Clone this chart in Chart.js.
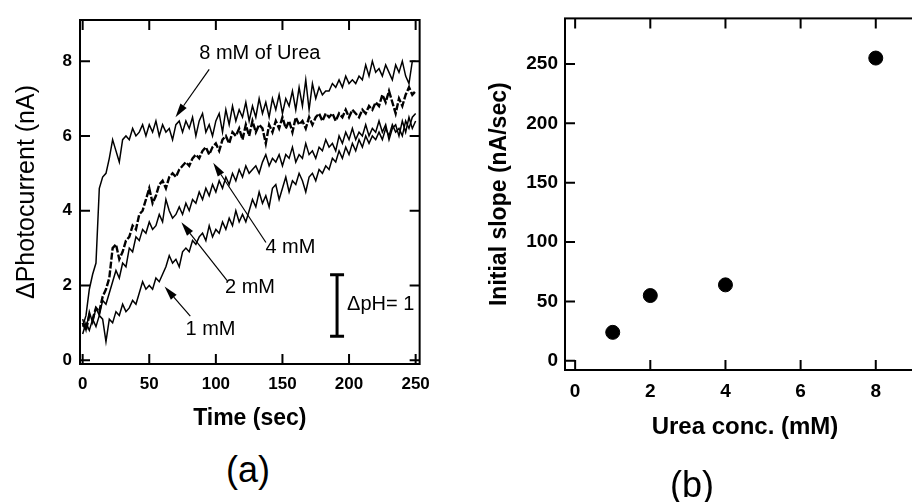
<!DOCTYPE html>
<html><head><meta charset="utf-8">
<script src="https://cdn.jsdelivr.net/npm/chart.js@4.4.1/dist/chart.umd.min.js"></script>
<style>
html,body{margin:0;padding:0;background:#fff;overflow:hidden;width:912px;height:502px;}
#wrapA{position:absolute;left:0;top:0;width:440px;height:440px;}
#wrapB{position:absolute;left:440px;top:0;width:500px;height:502px;}
.lbl{position:absolute;font-family:"Liberation Sans",Arial,sans-serif;font-size:36px;color:#000;transform:translate(-50%,-50%);white-space:nowrap;}
</style></head><body>
<div id="wrapA"><canvas id="cA" width="440" height="440"></canvas></div>
<div id="wrapB"><canvas id="cB" width="500" height="502"></canvas></div>
<div class="lbl" style="left:248px;top:470px">(a)</div>
<div class="lbl" style="left:692px;top:485px">(b)</div>
<script>
// ---------- DATA (panel a) ----------
const timeSec = [0,2.5,5,7.5,10,12.5,15,17.5,20,22.5,25,27.5,30,32.5,35,37.5,40,42.5,45,47.5,50,52.5,55,57.5,60,62.5,65,67.5,70,72.5,75,77.5,80,82.5,85,87.5,90,92.5,95,97.5,100,102.5,105,107.5,110,112.5,115,117.5,120,122.5,125,127.5,130,132.5,135,137.5,140,142.5,145,147.5,150,152.5,155,157.5,160,162.5,165,167.5,170,172.5,175,177.5,180,182.5,185,187.5,190,192.5,195,197.5,200,202.5,205,207.5,210,212.5,215,217.5,220,222.5,225,227.5,230,232.5,235,237.5,240,242.5,245,247.5,250];
const urea8mM = [0.9,1.2,1.9,2.3,2.6,4.6,4.9,5.0,5.4,5.9,5.6,5.3,5.9,6.0,5.9,6.2,6.0,6.1,6.3,6.0,6.3,6.1,6.4,6.0,6.3,6.1,6.2,5.9,6.3,6.4,6.1,6.4,6.2,6.5,6.0,6.4,6.6,6.1,6.3,6.0,6.4,6.6,6.1,6.7,6.3,6.8,6.4,6.7,6.5,6.9,6.4,6.8,6.5,7.0,6.6,6.9,6.5,7.0,6.7,7.1,6.6,7.0,6.8,7.2,6.7,7.3,6.8,7.5,6.7,7.4,7.0,7.3,7.1,7.2,7.2,7.4,7.3,7.5,7.3,7.6,7.4,7.5,7.4,7.6,7.5,7.9,7.6,8.0,7.7,7.8,7.6,7.9,7.7,7.5,7.9,7.7,8.0,7.6,7.4,8.0,8.0];
const urea4mM = [1.0,0.8,1.2,1.1,1.4,1.3,1.7,1.9,2.2,3.0,3.1,2.7,2.9,3.2,3.3,3.6,3.5,3.9,4.0,4.3,4.6,4.2,4.4,4.7,4.8,4.6,4.9,5.0,4.9,5.1,5.2,5.3,5.2,5.4,5.5,5.4,5.6,5.7,5.5,5.7,5.8,5.6,5.9,6.0,5.8,6.1,6.0,6.2,5.9,6.3,6.0,6.4,6.1,6.3,6.2,5.8,6.3,6.1,6.4,6.2,6.5,6.2,6.4,6.1,6.5,6.3,6.4,6.2,6.5,6.3,6.5,6.6,6.4,6.6,6.5,6.6,6.4,6.6,6.5,6.7,6.5,6.7,6.6,6.5,6.7,6.6,6.8,6.7,6.9,6.8,7.1,6.9,7.2,6.9,6.6,7.0,6.8,7.1,7.3,7.1,7.2];
const urea2mM = [1.1,0.8,1.3,1.0,1.4,1.2,1.6,1.5,1.8,2.1,2.4,2.2,2.6,2.5,3.0,2.9,3.3,3.2,3.5,3.4,3.7,3.5,3.6,3.9,3.7,4.3,4.0,3.8,3.9,4.1,3.9,4.2,4.0,4.3,4.2,4.5,4.3,4.6,4.4,4.7,4.5,4.8,4.6,4.9,4.7,5.0,4.8,5.1,4.9,5.2,5.0,5.1,5.2,5.0,5.3,5.5,5.2,5.4,5.3,5.5,5.2,5.5,5.4,5.7,5.3,5.5,5.4,5.8,5.5,5.6,5.4,5.7,5.6,5.9,5.7,5.8,5.6,6.0,5.8,6.1,5.9,6.2,5.9,6.1,6.0,6.3,6.0,6.2,6.1,6.4,6.1,6.3,5.9,6.2,6.3,6.0,6.4,6.1,6.5,6.2,6.4];
const urea1mM = [0.7,1.0,0.8,1.1,0.9,1.2,1.1,0.5,1.1,1.0,1.3,1.2,1.5,1.3,1.4,1.6,1.5,1.8,2.1,1.9,2.0,1.9,2.2,2.1,2.3,2.5,2.8,2.6,2.7,2.5,2.9,3.0,2.9,3.2,3.1,3.3,3.4,3.2,3.6,3.3,3.5,3.4,3.7,3.5,3.8,3.6,4.0,3.7,3.9,3.7,4.0,4.3,4.1,4.5,4.2,4.4,4.1,4.6,4.7,4.3,4.6,4.9,4.5,4.8,4.7,5.0,4.8,4.5,4.9,5.0,4.8,5.1,5.0,5.2,5.1,5.4,5.3,5.6,5.4,5.7,5.5,5.8,5.6,5.9,5.7,6.0,5.8,6.0,5.9,6.1,5.9,6.2,6.0,6.3,6.1,6.2,6.0,6.4,6.2,6.5,6.6];
const timeTicks = [0,50,100,150,200,250];
const currentTicks = [0,2,4,6,8];

// ---------- DATA (panel b) ----------
const ureaConc = [1,2,4,8];
const initialSlope = [24,55,64,255];
const concTicks = [0,2,4,6,8];
const slopeTicks = [0,50,100,150,200,250];

// ---------- helpers ----------
const FONT = '"Liberation Sans", Arial, sans-serif';
const toXY = (xs, ys) => xs.map((x, i) => ({x, y: ys[i]}));
const setTicks = arr => scale => { scale.ticks = arr.map(v => ({value: v})); };

const framePlugin = {
  id: 'frame',
  afterDatasetsDraw(chart, args, o) {
    const {ctx, chartArea: a, scales} = chart;
    ctx.save();
    ctx.strokeStyle = '#000';
    ctx.lineWidth = 2;
    ctx.strokeRect(a.left, a.top, a.right - a.left, a.bottom - a.top);
    const L = 10;
    ctx.beginPath();
    for (const v of o.xt) {
      const p = scales.x.getPixelForValue(v);
      ctx.moveTo(p, a.bottom); ctx.lineTo(p, a.bottom - L);
      ctx.moveTo(p, a.top); ctx.lineTo(p, a.top + L);
    }
    for (const v of o.yt) {
      const p = scales.y.getPixelForValue(v);
      ctx.moveTo(a.left, p); ctx.lineTo(a.left + L, p);
      ctx.moveTo(a.right, p); ctx.lineTo(a.right - L, p);
    }
    ctx.stroke();
    ctx.restore();
  }
};

// annotation layout for panel a (data coordinates)
const notes = [
  {text: '8 mM of Urea', x: 133, y: 8.21, align: 'center'},
  {text: '4 mM', x: 156, y: 3.01, align: 'center'},
  {text: '2 mM', x: 125.6, y: 1.95, align: 'center'},
  {text: '1 mM', x: 96, y: 0.83, align: 'center'},
  {text: '\u0394pH= 1', x: 198.5, y: 1.49, align: 'left'}
];
const arrows = [
  [95, 7.78, 69.7, 6.5],
  [137.6, 3.15, 98, 5.28],
  [108.5, 2.13, 74.1, 3.69],
  [80.8, 1.18, 61.5, 1.97]
];
const scaleBar = {x: 191, y1: 0.64, y2: 2.29};

const annotPlugin = {
  id: 'annot',
  afterDatasetsDraw(chart) {
    const {ctx, scales: {x, y}} = chart;
    ctx.save();
    ctx.fillStyle = '#000';
    ctx.strokeStyle = '#000';
    ctx.font = '20px ' + FONT;
    ctx.textBaseline = 'middle';
    for (const n of notes) {
      ctx.textAlign = n.align;
      ctx.fillText(n.text, x.getPixelForValue(n.x), y.getPixelForValue(n.y));
    }
    ctx.lineWidth = 1.2;
    for (const [a, b, c, d] of arrows) {
      const x1 = x.getPixelForValue(a), y1 = y.getPixelForValue(b);
      const x2 = x.getPixelForValue(c), y2 = y.getPixelForValue(d);
      const ang = Math.atan2(y2 - y1, x2 - x1);
      const hl = 14, hw = 3.8;
      const bx = x2 - hl * Math.cos(ang), by = y2 - hl * Math.sin(ang);
      ctx.beginPath(); ctx.moveTo(x1, y1); ctx.lineTo(bx, by); ctx.stroke();
      ctx.beginPath();
      ctx.moveTo(x2, y2);
      ctx.lineTo(bx + hw * Math.sin(ang), by - hw * Math.cos(ang));
      ctx.lineTo(bx - hw * Math.sin(ang), by + hw * Math.cos(ang));
      ctx.closePath(); ctx.fill();
    }
    const sx = x.getPixelForValue(scaleBar.x);
    const s1 = y.getPixelForValue(scaleBar.y1), s2 = y.getPixelForValue(scaleBar.y2);
    ctx.lineWidth = 3;
    ctx.beginPath();
    ctx.moveTo(sx, s1); ctx.lineTo(sx, s2);
    ctx.moveTo(sx - 7, s1); ctx.lineTo(sx + 7, s1);
    ctx.moveTo(sx - 7, s2); ctx.lineTo(sx + 7, s2);
    ctx.stroke();
    ctx.restore();
  }
};

Chart.defaults.font.family = FONT;
Chart.defaults.color = '#000';

// ---------- Panel (a) ----------
new Chart(document.getElementById('cA'), {
  type: 'line',
  data: {
    datasets: [
      {label: '8 mM', data: toXY(timeSec, urea8mM), borderColor: '#000', borderWidth: 1.5},
      {label: '4 mM', data: toXY(timeSec, urea4mM), borderColor: '#000', borderWidth: 2.4, borderDash: [7, 2]},
      {label: '2 mM', data: toXY(timeSec, urea2mM), borderColor: '#000', borderWidth: 1.5},
      {label: '1 mM', data: toXY(timeSec, urea1mM), borderColor: '#000', borderWidth: 1.5}
    ]
  },
  options: {
    responsive: false, animation: false, devicePixelRatio: 1,
    elements: {point: {radius: 0}, line: {tension: 0, fill: false}},
    layout: {padding: {left: 0, top: 20, right: 15, bottom: 0}},
    plugins: {legend: {display: false}, tooltip: {enabled: false},
      frame: {xt: timeTicks, yt: currentTicks}},
    scales: {
      x: {type: 'linear', min: -2, max: 253,
        afterBuildTicks: setTicks(timeTicks),
        afterFit: s => { s.height = 76; },
        grid: {display: false, drawTicks: false}, border: {display: false},
        ticks: {font: {size: 17, weight: 'bold'}, padding: 10, maxRotation: 0},
        title: {display: true, text: 'Time (sec)', font: {size: 23, weight: 'bold'}, padding: {top: 0, bottom: 8}}
      },
      y: {type: 'linear', min: -0.1, max: 9.1,
        afterBuildTicks: setTicks(currentTicks),
        afterFit: s => { s.width = 80; },
        grid: {display: false, drawTicks: false}, border: {display: false},
        ticks: {font: {size: 17, weight: 'bold'}, padding: 8},
        title: {display: true, text: '\u0394Photocurrent (nA)', font: {size: 25, weight: 'normal'}, padding: {top: 12, bottom: 0}}
      }
    }
  },
  plugins: [framePlugin, annotPlugin]
});

// ---------- Panel (b) ----------
new Chart(document.getElementById('cB'), {
  type: 'scatter',
  data: {
    datasets: [{label: 'slope', data: toXY(ureaConc, initialSlope),
      backgroundColor: '#000', borderColor: '#000', pointRadius: 7, pointHoverRadius: 7}]
  },
  options: {
    responsive: false, animation: false, devicePixelRatio: 1,
    layout: {padding: {left: 0, top: 13, right: 15, bottom: 0}},
    plugins: {legend: {display: false}, tooltip: {enabled: false},
      frame: {xt: concTicks, yt: slopeTicks}},
    scales: {
      x: {type: 'linear', min: -0.27, max: 9.31,
        afterBuildTicks: setTicks(concTicks),
        afterFit: s => { s.height = 132; },
        grid: {display: false, drawTicks: false}, border: {display: false},
        ticks: {font: {size: 19, weight: 'bold'}, padding: 10, maxRotation: 0},
        title: {display: true, text: 'Urea conc. (mM)', font: {size: 24, weight: 'bold'}, padding: {top: 0, bottom: 60}}
      },
      y: {type: 'linear', min: -7.7, max: 288.4,
        afterBuildTicks: setTicks(slopeTicks),
        afterFit: s => { s.width = 125; },
        grid: {display: false, drawTicks: false}, border: {display: false},
        ticks: {font: {size: 19, weight: 'bold'}, padding: 7},
        title: {display: true, text: 'Initial slope (nA/sec)', font: {size: 23, weight: 'bold'}, padding: {top: 46, bottom: 0}}
      }
    }
  },
  plugins: [framePlugin]
});
</script>
</body></html>
